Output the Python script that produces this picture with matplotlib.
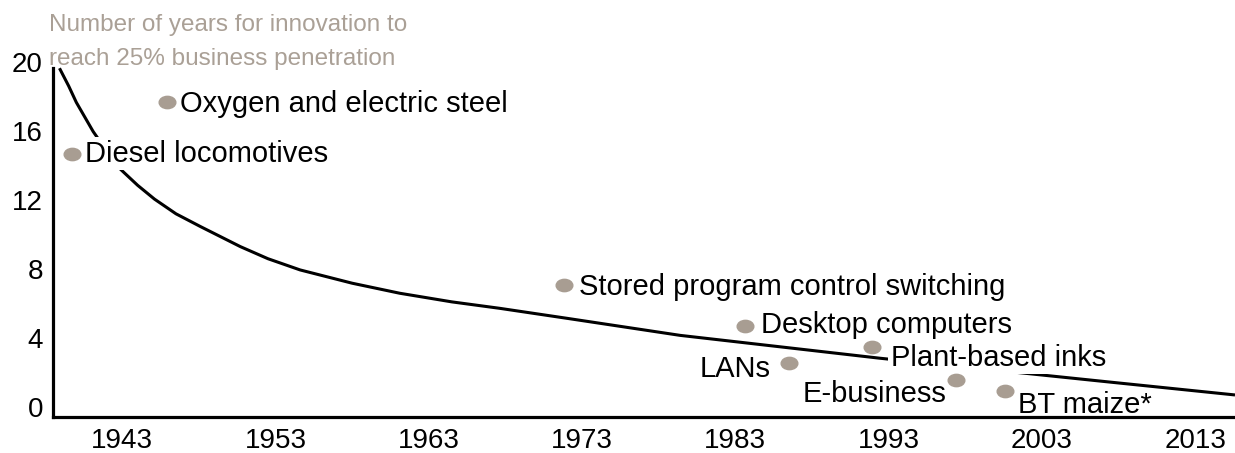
import numpy as np
import matplotlib
matplotlib.use("Agg")
import matplotlib.pyplot as plt
from matplotlib.path import Path
from matplotlib.transforms import Affine2D

plt.rcParams['font.family'] = ['Liberation Sans', 'DejaVu Sans']

# innovations: year of introduction vs years to reach 25% penetration
names = ["Diesel locomotives", "Oxygen and electric steel",
         "Stored program control switching", "Desktop computers", "LANs",
         "Plant-based inks", "E-business", "BT maize*"]
years = [1939.7, 1945.9, 1971.8, 1983.6, 1986.5, 1991.9, 1997.4, 2000.6]
values = [14.65, 17.7, 7.08, 4.71, 2.56, 3.47, 1.58, 0.96]

# trend line
curve_years = [1938.9, 1939.5, 1940.0, 1941.1, 1942.7, 1944.0, 1945.1,
               1946.5, 1948.1, 1950.7, 1952.5, 1954.6, 1958.0, 1961.1,
               1964.5, 1967.6, 1972.0, 1979.4, 1986.0, 1992.4, 1999.8,
               2007.5, 2015.6]
curve_vals = [19.63, 18.6, 17.65, 15.96, 13.93, 12.85, 12.05,
              11.2, 10.46, 9.3, 8.6, 7.95, 7.18, 6.6,
              6.1, 5.73, 5.15, 4.16, 3.49, 2.84, 2.16,
              1.45, 0.71]

xticks = [1943, 1953, 1963, 1973, 1983, 1993, 2003, 2013]
yticks = [0, 4, 8, 12, 16, 20]

dot_color = "#a89d92"
title_color = "#aaa096"

fig = plt.figure(figsize=(12.35, 4.53), dpi=100)
ax = fig.add_axes([0.0432, 0.0801, 0.9568, 0.7834])

ax.plot(curve_years, curve_vals, color="black", lw=2.2, zorder=2,
        solid_capstyle="butt", solid_joinstyle="round")

# slightly flattened dots, kept above the label boxes
ell = Path(Affine2D().scale(1, 0.74).transform(Path.unit_circle().vertices),
           Path.unit_circle().codes)
ax.plot(years, values, ls="none", marker=ell, ms=12, color=dot_color,
        zorder=5)

# label offsets in points (dx, dy, ha)
offs = [(9.5, 0.5, "left"), (9.5, -1.5, "left"), (11, -1.2, "left"),
        (11.5, 0.3, "left"), (-13, -4, "right"), (13.5, -7.7, "left"),
        (-7, -10, "right"), (9.5, -10.5, "left")]
for name, x, y, (dx, dy, ha) in zip(names, years, values, offs):
    ax.annotate(name, (x, y), xytext=(dx, dy), textcoords="offset points",
                ha=ha, va="center", fontsize=21, color="black", zorder=4,
                bbox=dict(boxstyle="square,pad=0.08", fc="white", ec="none"))

ax.set_xlim(1938.5, 2015.6)
ax.set_ylim(-0.55, 20)
ax.set_xticks(xticks)
ax.set_yticks(yticks)
ax.tick_params(length=0, labelsize=20)
ax.tick_params(axis="y", pad=7.5)
ax.tick_params(axis="x", pad=8)

for s in ["top", "right"]:
    ax.spines[s].set_visible(False)
for s in ["left", "bottom"]:
    ax.spines[s].set_linewidth(2.3)
    ax.spines[s].set_zorder(6)
ax.spines["left"].set_bounds(-0.55, 19.65)

fig.text(49 / 1235, 1 - 31 / 453, "Number of years for innovation to",
         fontsize=17.5, color=title_color, va="baseline", ha="left")
fig.text(49 / 1235, 1 - 64.5 / 453, "reach 25% business penetration",
         fontsize=17.5, color=title_color, va="baseline", ha="left")

fig.savefig("out.png", dpi=100)
